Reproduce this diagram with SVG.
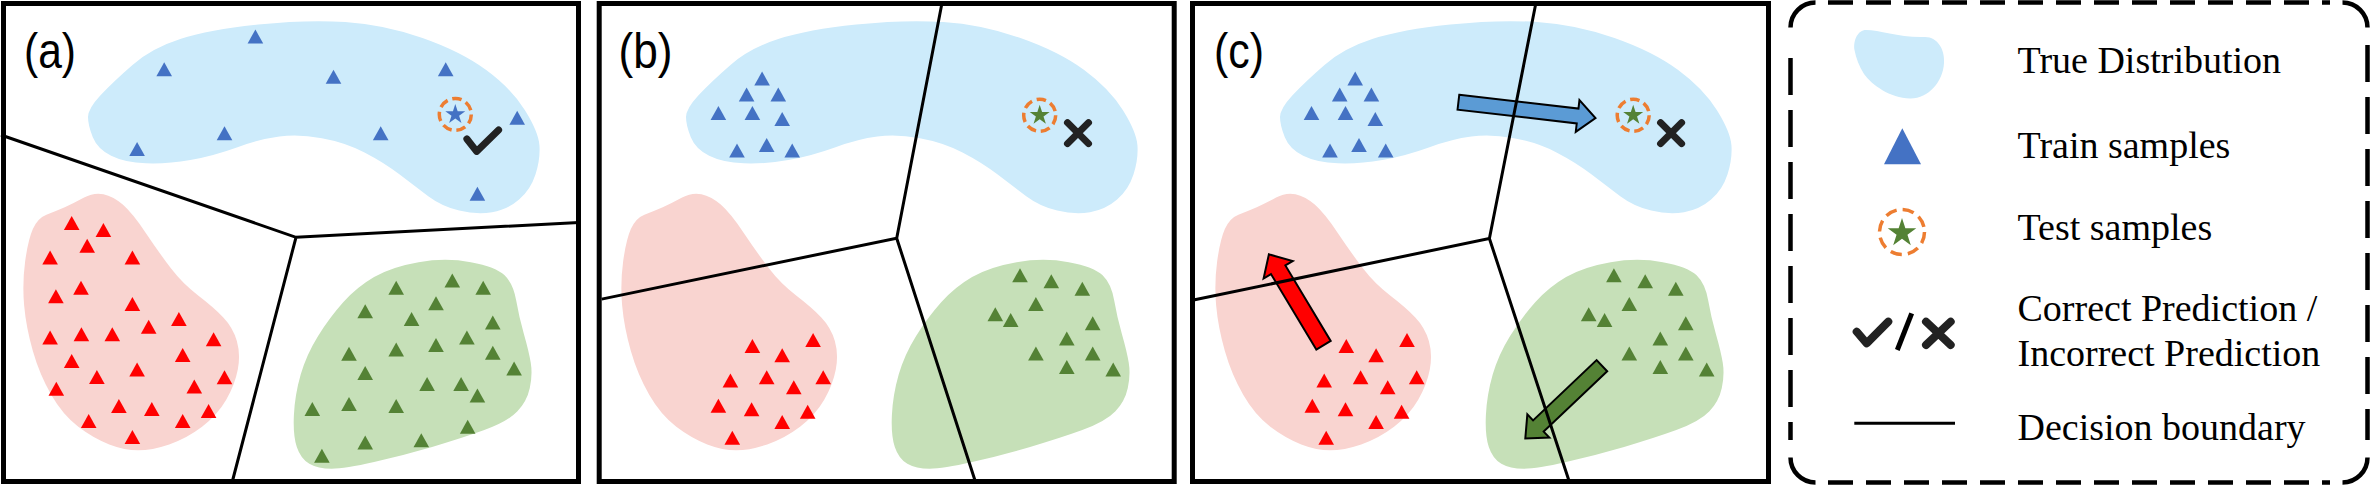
<svg xmlns="http://www.w3.org/2000/svg" xmlns:xlink="http://www.w3.org/1999/xlink" width="2371" height="485" viewBox="0 0 2371 485">
<style>
.panel{fill:#fff;stroke:#000;stroke-width:5}
.bb{fill:#CDEBFB}
.br{fill:#F9D4D0}
.bg{fill:#C6E0B8}
.tb{fill:#4472C4}
.tr{fill:#FF0000}
.tg{fill:#548235}
.bound{fill:none;stroke:#000;stroke-width:3;stroke-linejoin:miter}
.ring{fill:none;stroke:#ED7D31;stroke-width:3.5;stroke-dasharray:9.5 4.86}
.mark{fill:none;stroke:#222;stroke-width:7;stroke-linecap:round;stroke-linejoin:round}
.arrow{stroke:#000;stroke-width:2;stroke-linejoin:miter}
.lbl{font-family:"Liberation Sans",Arial,sans-serif;font-size:50px;fill:#000}
.leg{font-family:"Liberation Serif","Times New Roman",serif;font-size:38px;fill:#000}
.legbox{fill:none;stroke:#000;stroke-width:4.5}
</style>
<defs>
<path id="blueBlob" d="M88,117.1 Q88,108.7 100.5,95.25 Q113,81.8 132.5,64.9 Q152,48 181,38.8 Q210,29.6 258.25,24.55 Q306.5,19.5 345.25,22 Q384,24.5 422.5,38 Q461,51.5 486.2,70 Q511.4,88.5 524.95,110.25 Q538.5,132 539.45,145.5 Q540.4,159 535.55,174.25 Q530.7,189.5 519.1,199.6 Q507.5,209.7 492.05,212.2 Q476.6,214.7 459.2,210.5 Q441.8,206.3 428.25,196.15 Q414.7,186 399.35,174.25 Q384,162.5 364.5,152.4 Q345,142.3 321.85,138.15 Q298.7,134 279.35,136.5 Q260,139 236.8,147.4 Q213.6,155.8 190.3,160 Q167,164.2 145.85,163.35 Q124.7,162.5 111.15,155.75 Q97.6,149 92.8,137.25 Q88,125.5 88,117.1 Z"/>
<path id="redBlob" d="M84.1,197.6 Q93.8,192.2 103.45,194.2 Q113.1,196.2 122.75,204.6 Q132.4,213 145.95,233.2 Q159.5,253.4 171.1,268.55 Q182.7,283.7 198.15,295.5 Q213.6,307.3 223.3,317.4 Q233,327.5 236.85,340.95 Q240.7,354.4 237.8,369.55 Q234.9,384.7 226.2,399.85 Q217.5,415 202.05,426.75 Q186.6,438.5 169.2,444.4 Q151.8,450.3 138.25,450.3 Q124.7,450.3 109.25,444.4 Q93.8,438.5 78.3,426.75 Q62.8,415 51.2,394.8 Q39.6,374.6 32.85,351.05 Q26.1,327.5 24.15,305.6 Q22.2,283.7 25.1,261.85 Q28,240 32.85,229 Q37.7,218 46.4,214.65 Q55.1,211.3 64.75,207.15 Q74.4,203 84.1,197.6 Z"/>
<path id="greenBlob" d="M418.6,262.2 Q445.7,257.5 470.8,262.2 Q495.9,266.9 504.6,275.3 Q513.3,283.7 516.2,300.55 Q519.1,317.4 523.95,334.2 Q528.8,351 530.75,362.8 Q532.7,374.6 529.8,388.05 Q526.9,401.5 517.2,411.6 Q507.5,421.7 484.3,430.1 Q461.1,438.5 432.1,446.95 Q403.1,455.4 374.1,462.1 Q345.1,468.8 331.55,468.8 Q318,468.8 309.35,463.75 Q300.7,458.7 296.8,446.95 Q292.9,435.2 293.9,415 Q294.9,394.8 300.7,374.6 Q306.5,354.4 318.1,335.9 Q329.7,317.4 343.2,302.25 Q356.7,287.1 374.1,277 Q391.5,266.9 418.6,262.2 Z"/>
<path id="tri" d="M0,-7 L7.8,7 L-7.8,7 Z"/>
<path id="star" d="M0,-10 L2.245,-3.09 L9.511,-3.09 L3.633,1.18 L5.878,8.09 L0,3.82 L-5.878,8.09 L-3.633,1.18 L-9.511,-3.09 L-2.245,-3.09 Z"/>
<path id="xm" d="M-10.5,-10.5 L10.5,10.5 M10.5,-10.5 L-10.5,10.5"/>
</defs>

<g id="panel-a">
<rect class="panel" x="3.5" y="3.5" width="575" height="478"/>
<use xlink:href="#blueBlob" class="bb"/>
<use xlink:href="#redBlob" class="br"/>
<use xlink:href="#greenBlob" class="bg"/>
<g class="tb">
<use xlink:href="#tri" x="255.4" y="36.6"/><use xlink:href="#tri" x="164.2" y="69.3"/><use xlink:href="#tri" x="333.5" y="76.7"/><use xlink:href="#tri" x="445.7" y="69.3"/><use xlink:href="#tri" x="517.2" y="117.8"/><use xlink:href="#tri" x="224.5" y="133.3"/><use xlink:href="#tri" x="380.7" y="133.3"/><use xlink:href="#tri" x="137.1" y="149"/><use xlink:href="#tri" x="477.4" y="193.8"/>
</g>
<g class="tr">
<use xlink:href="#tri" x="71.7" y="223.1"/><use xlink:href="#tri" x="103.4" y="229.9"/><use xlink:href="#tri" x="87.2" y="245.7"/><use xlink:href="#tri" x="50.1" y="257.5"/><use xlink:href="#tri" x="132.4" y="257.5"/><use xlink:href="#tri" x="55.9" y="296.2"/><use xlink:href="#tri" x="81" y="287.8"/><use xlink:href="#tri" x="132.4" y="303.9"/><use xlink:href="#tri" x="178.9" y="319"/><use xlink:href="#tri" x="50.1" y="337.6"/><use xlink:href="#tri" x="81.4" y="334.2"/><use xlink:href="#tri" x="112.3" y="334.2"/><use xlink:href="#tri" x="148.7" y="326.8"/><use xlink:href="#tri" x="213.6" y="339.2"/><use xlink:href="#tri" x="71.7" y="361.1"/><use xlink:href="#tri" x="182.7" y="355.1"/><use xlink:href="#tri" x="137.1" y="369.5"/><use xlink:href="#tri" x="96.9" y="377"/><use xlink:href="#tri" x="224.5" y="377.3"/><use xlink:href="#tri" x="56.3" y="388.7"/><use xlink:href="#tri" x="194.3" y="386.4"/><use xlink:href="#tri" x="118.9" y="405.9"/><use xlink:href="#tri" x="151.8" y="408.9"/><use xlink:href="#tri" x="208.6" y="410.9"/><use xlink:href="#tri" x="88.7" y="421"/><use xlink:href="#tri" x="182.7" y="421"/><use xlink:href="#tri" x="132.4" y="436.9"/>
</g>
<g class="tg">
<use xlink:href="#tri" x="396.2" y="287.8"/><use xlink:href="#tri" x="452.3" y="280.4"/><use xlink:href="#tri" x="483.2" y="287.8"/><use xlink:href="#tri" x="365.2" y="311.3"/><use xlink:href="#tri" x="436" y="303.2"/><use xlink:href="#tri" x="411.6" y="319.1"/><use xlink:href="#tri" x="492.8" y="322.4"/><use xlink:href="#tri" x="466.9" y="337.6"/><use xlink:href="#tri" x="349" y="353.7"/><use xlink:href="#tri" x="396.2" y="349.4"/><use xlink:href="#tri" x="436" y="345"/><use xlink:href="#tri" x="492.8" y="352.7"/><use xlink:href="#tri" x="365.2" y="372.9"/><use xlink:href="#tri" x="514.1" y="368.5"/><use xlink:href="#tri" x="427.1" y="384"/><use xlink:href="#tri" x="461.1" y="384"/><use xlink:href="#tri" x="477.4" y="395.5"/><use xlink:href="#tri" x="312.3" y="408.9"/><use xlink:href="#tri" x="349" y="403.9"/><use xlink:href="#tri" x="396.2" y="405.9"/><use xlink:href="#tri" x="467.7" y="426.8"/><use xlink:href="#tri" x="365.2" y="442.6"/><use xlink:href="#tri" x="421.3" y="440.2"/><use xlink:href="#tri" x="321.9" y="455.7"/>
</g>
<circle class="ring" cx="455.3" cy="114.4" r="16"/>
<use xlink:href="#star" class="tb" transform="translate(455.3,114.4) scale(1.05)"/>
<path class="mark" d="M466.9,139 L476.6,151.4 L498.6,129.9"/>
<text class="lbl" x="24" y="68" textLength="52" lengthAdjust="spacingAndGlyphs">(a)</text>
</g>

<g id="panel-b">
<rect class="panel" x="599.2" y="3.5" width="575" height="478"/>
<use xlink:href="#blueBlob" class="bb" transform="translate(598,0)"/>
<use xlink:href="#redBlob" class="br" transform="translate(598,0)"/>
<use xlink:href="#greenBlob" class="bg" transform="translate(598,0)"/>
<g class="tb">
<use xlink:href="#tri" x="762.1" y="78.6"/><use xlink:href="#tri" x="746.6" y="94.4"/><use xlink:href="#tri" x="778.3" y="94.4"/><use xlink:href="#tri" x="718.4" y="113"/><use xlink:href="#tri" x="752.4" y="113"/><use xlink:href="#tri" x="782.2" y="119"/><use xlink:href="#tri" x="737" y="150.6"/><use xlink:href="#tri" x="766.7" y="144.9"/><use xlink:href="#tri" x="792.2" y="150.6"/>
</g>
<g class="tr">
<use xlink:href="#tri" x="813.1" y="340.1"/><use xlink:href="#tri" x="752.4" y="345.9"/><use xlink:href="#tri" x="782.2" y="355.3"/><use xlink:href="#tri" x="730.4" y="380.5"/><use xlink:href="#tri" x="766.7" y="377.2"/><use xlink:href="#tri" x="793.8" y="387.3"/><use xlink:href="#tri" x="823.2" y="377.2"/><use xlink:href="#tri" x="718.4" y="405.8"/><use xlink:href="#tri" x="751.6" y="409.2"/><use xlink:href="#tri" x="807.7" y="411.8"/><use xlink:href="#tri" x="782.2" y="421.9"/><use xlink:href="#tri" x="732.3" y="437.8"/>
</g>
<g class="tg">
<use xlink:href="#tri" x="1020" y="275.2"/><use xlink:href="#tri" x="1051.3" y="281.2"/><use xlink:href="#tri" x="1082.3" y="288.7"/><use xlink:href="#tri" x="1035.9" y="304.1"/><use xlink:href="#tri" x="995.3" y="314.2"/><use xlink:href="#tri" x="1010.7" y="320"/><use xlink:href="#tri" x="1092.7" y="323.3"/><use xlink:href="#tri" x="1066.8" y="338.5"/><use xlink:href="#tri" x="1035.9" y="353.6"/><use xlink:href="#tri" x="1092.7" y="353.6"/><use xlink:href="#tri" x="1066.8" y="367.1"/><use xlink:href="#tri" x="1113.2" y="369.4"/>
</g>
<circle class="ring" cx="1039.7" cy="115.3" r="16"/>
<use xlink:href="#star" class="tg" transform="translate(1039.7,115.3) scale(1.05)"/>
<use xlink:href="#xm" class="mark" transform="translate(1078,133.1)"/>
<text class="lbl" x="618.5" y="68" textLength="54" lengthAdjust="spacingAndGlyphs">(b)</text>
</g>

<g id="panel-c">
<rect class="panel" x="1192.5" y="3.5" width="576" height="478"/>
<use xlink:href="#blueBlob" class="bb" transform="translate(1192,0)"/>
<use xlink:href="#redBlob" class="br" transform="translate(1192,0)"/>
<use xlink:href="#greenBlob" class="bg" transform="translate(1192,0)"/>
<g class="tb">
<use xlink:href="#tri" x="1355.2" y="78.6"/><use xlink:href="#tri" x="1339.7" y="94.4"/><use xlink:href="#tri" x="1371.4" y="94.4"/><use xlink:href="#tri" x="1311.5" y="113"/><use xlink:href="#tri" x="1345.5" y="113"/><use xlink:href="#tri" x="1375.3" y="119"/><use xlink:href="#tri" x="1330" y="150.6"/><use xlink:href="#tri" x="1359" y="144.9"/><use xlink:href="#tri" x="1385.7" y="150.6"/>
</g>
<g class="tr">
<use xlink:href="#tri" x="1407" y="340.1"/><use xlink:href="#tri" x="1346.3" y="345.9"/><use xlink:href="#tri" x="1376.1" y="355.3"/><use xlink:href="#tri" x="1324.2" y="380.5"/><use xlink:href="#tri" x="1360.6" y="377.2"/><use xlink:href="#tri" x="1387.7" y="387.3"/><use xlink:href="#tri" x="1416.7" y="377.2"/><use xlink:href="#tri" x="1312.3" y="405.8"/><use xlink:href="#tri" x="1345.5" y="409.2"/><use xlink:href="#tri" x="1401.6" y="411.8"/><use xlink:href="#tri" x="1376.1" y="421.9"/><use xlink:href="#tri" x="1326.2" y="437.8"/>
</g>
<g class="tg">
<use xlink:href="#tri" x="1613.9" y="275.2"/><use xlink:href="#tri" x="1645.2" y="281.2"/><use xlink:href="#tri" x="1675.8" y="288.7"/><use xlink:href="#tri" x="1629.3" y="304.1"/><use xlink:href="#tri" x="1588.7" y="314.2"/><use xlink:href="#tri" x="1604.6" y="320"/><use xlink:href="#tri" x="1685.8" y="323.3"/><use xlink:href="#tri" x="1660.3" y="338.5"/><use xlink:href="#tri" x="1629.3" y="353.6"/><use xlink:href="#tri" x="1685.8" y="353.6"/><use xlink:href="#tri" x="1660.3" y="367.1"/><use xlink:href="#tri" x="1706.7" y="369.4"/>
</g>
<circle class="ring" cx="1633.2" cy="115.3" r="16"/>
<use xlink:href="#star" class="tg" transform="translate(1633.2,115.3) scale(1.05)"/>
<use xlink:href="#xm" class="mark" transform="translate(1671.1,133.1)"/>
<text class="lbl" x="1214" y="68" textLength="50" lengthAdjust="spacingAndGlyphs">(c)</text>
</g>

<g id="shift-arrows">
<polygon class="arrow" fill="#5B9BD5" points="0,-7.5 120,-7.5 120,-16 138,0 120,16 120,7.5 0,7.5" transform="translate(1458.4,102.2) rotate(6.6)"/>
<polygon class="arrow" fill="#FF0000" points="0,-8.4 88,-8.4 88,-17 106,0 88,17 88,8.4 0,8.4" transform="translate(1323.5,345.2) rotate(-121)"/>
<polygon class="arrow" fill="#548235" points="0,-7.7 87.6,-7.7 87.6,-16 105.6,0 87.6,16 87.6,7.7 0,7.7" transform="translate(1601.9,365.7) rotate(136.5)"/>
</g>

<g id="connectors">
<path class="bound" d="M1,135 L296,237.3 L579,222.5 M296,237.3 L232.2,482"/>
<path class="bound" d="M941.9,3.5 L896.7,238.2 L601.6,299.1 M896.7,238.2 L975.5,482"/>
<path class="bound" d="M1535.8,3.5 L1489.4,238.5 L1194.7,299.8 M1489.4,238.5 L1569.4,482"/>
</g>

<g id="legend">
<g class="legbox">
<path d="M1790.5,27.5 A25,25 0 0 1 1815.5,2.5"/>
<path d="M2342.5,2.5 A25,25 0 0 1 2367.5,27.5"/>
<path d="M2367.5,457.5 A25,25 0 0 1 2342.5,482.5"/>
<path d="M1815.5,482.5 A25,25 0 0 1 1790.5,457.5"/>
<path d="M1828,2.5 H2330" stroke-dasharray="25 13"/>
<path d="M1828,482.5 H2330" stroke-dasharray="25 13"/>
<path d="M1790.5,58 V440" stroke-dasharray="37 15"/>
<path d="M2367.5,45 V440" stroke-dasharray="37 15"/>
</g>
<g id="legend-distribution">
<path class="bb" d="M1854.5,50 C1853,40 1858,30 1866,30 C1880,30 1900,38 1925,37 C1938,37 1945,50 1944,63 C1943,82 1928,99 1910,98.5 C1890,98 1872,85 1864,74 C1859,66 1856,58 1854.5,50 Z"/>
<text class="leg" x="2017.5" y="73.2">True Distribution</text>
</g>
<g id="legend-train">
<path class="tb" d="M1902.3,128.3 L1921,164.3 L1884,164.3 Z"/>
<text class="leg" x="2017.5" y="157.7">Train samples</text>
</g>
<g id="legend-test">
<circle cx="1902" cy="232" r="22.5" fill="none" stroke="#ED7D31" stroke-width="3.5" stroke-dasharray="11.5 6.17"/>
<use xlink:href="#star" class="tg" transform="translate(1902,233) scale(1.5)"/>
<text class="leg" x="2017.5" y="240.2">Test samples</text>
</g>
<g id="legend-prediction">
<path fill="none" stroke="#222" stroke-width="8" stroke-linecap="round" stroke-linejoin="round" d="M1856.7,331.7 L1866.7,343.3 L1888.3,321.7"/>
<path fill="none" stroke="#000" stroke-width="5" d="M1911.7,313.3 L1897.3,350"/>
<path fill="none" stroke="#222" stroke-width="8" stroke-linecap="round" d="M1926,321.7 L1950.7,345 M1950.7,321.7 L1926,345"/>
<text class="leg" x="2017.5" y="321">Correct Prediction /</text>
<text class="leg" x="2017.5" y="366.4">Incorrect Prediction</text>
</g>
<g id="legend-boundary">
<path fill="none" stroke="#000" stroke-width="3" d="M1854.3,423.3 H1955"/>
<text class="leg" x="2017.5" y="439.5">Decision boundary</text>
</g>
</g>
</svg>
